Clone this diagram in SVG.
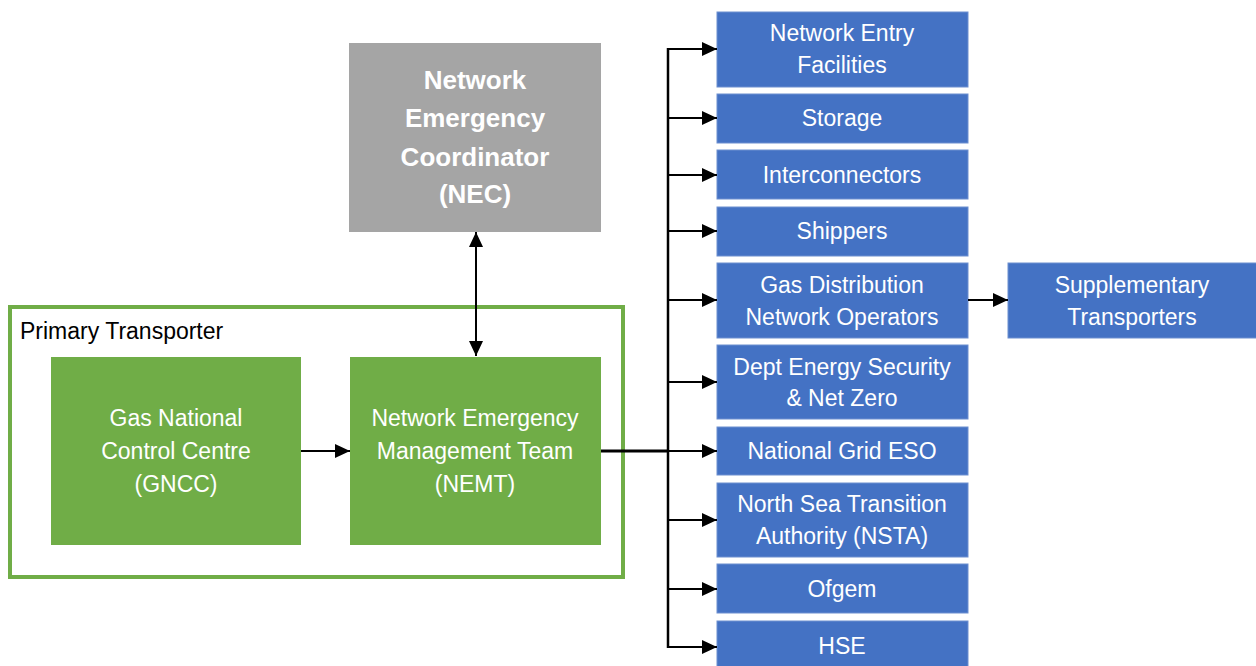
<svg xmlns="http://www.w3.org/2000/svg" width="1256" height="666" viewBox="0 0 1256 666">
<defs>
<marker id="arr" viewBox="0 0 10 10" refX="10" refY="5" markerUnits="userSpaceOnUse" markerWidth="15" markerHeight="14" preserveAspectRatio="none" orient="auto-start-reverse">
<path d="M0,0 L10,5 L0,10 z" fill="#000"/>
</marker>
<style>
.blue{fill:#4472C4;stroke:#6d8fd0;stroke-width:1}
.green{fill:#70AD47}
.grey{fill:#A5A5A5}
.wt{fill:#fff;font-family:"Liberation Sans",Arial,sans-serif;font-size:23px;text-anchor:middle}
.nec{fill:#fff;font-family:"Liberation Sans",Arial,sans-serif;font-size:26px;font-weight:bold;text-anchor:middle}
.lbl{fill:#000;font-family:"Liberation Sans",Arial,sans-serif;font-size:23px}
.c{fill:none;stroke:#000;stroke-width:2}
</style>
</defs>
<rect width="1256" height="666" fill="#fff"/>

<g id="primary-transporter">
<rect x="10" y="307" width="613" height="270" fill="none" stroke="#70AD47" stroke-width="4"/>
<text class="lbl" x="20" y="339">Primary Transporter</text>
</g>

<g id="nec">
<rect class="grey" x="349" y="43" width="252" height="189"/>
<text class="nec" x="475" y="89">Network</text>
<text class="nec" x="475" y="127">Emergency</text>
<text class="nec" x="475" y="166">Coordinator</text>
<text class="nec" x="475" y="203">(NEC)</text>
</g>

<g id="gncc">
<rect class="green" x="51" y="357" width="250" height="188"/>
<text class="wt" x="176" y="426">Gas National</text>
<text class="wt" x="176" y="459">Control Centre</text>
<text class="wt" x="176" y="492">(GNCC)</text>
</g>

<g id="nemt">
<rect class="green" x="350" y="357" width="251" height="188"/>
<text class="wt" x="475" y="426">Network Emergency</text>
<text class="wt" x="475" y="459">Management Team</text>
<text class="wt" x="475" y="492">(NEMT)</text>
</g>

<g id="network-entry">
<rect class="blue" x="717" y="12" width="251" height="75"/>
<text class="wt" x="842" y="41">Network Entry</text>
<text class="wt" x="842" y="73">Facilities</text>
</g>
<g id="storage">
<rect class="blue" x="717" y="94" width="251" height="49"/>
<text class="wt" x="842" y="126">Storage</text>
</g>
<g id="interconnectors">
<rect class="blue" x="717" y="150" width="251" height="49"/>
<text class="wt" x="842" y="183">Interconnectors</text>
</g>
<g id="shippers">
<rect class="blue" x="717" y="207" width="251" height="49"/>
<text class="wt" x="842" y="239">Shippers</text>
</g>
<g id="gdno">
<rect class="blue" x="717" y="263" width="251" height="75"/>
<text class="wt" x="842" y="293">Gas Distribution</text>
<text class="wt" x="842" y="325">Network Operators</text>
</g>
<g id="desnz">
<rect class="blue" x="717" y="345" width="251" height="74"/>
<text class="wt" x="842" y="375">Dept Energy Security</text>
<text class="wt" x="842" y="406">&amp; Net Zero</text>
</g>
<g id="ngeso">
<rect class="blue" x="717" y="427" width="251" height="48"/>
<text class="wt" x="842" y="459">National Grid ESO</text>
</g>
<g id="nsta">
<rect class="blue" x="717" y="483" width="251" height="74"/>
<text class="wt" x="842" y="512">North Sea Transition</text>
<text class="wt" x="842" y="544">Authority (NSTA)</text>
</g>
<g id="ofgem">
<rect class="blue" x="717" y="564" width="251" height="49"/>
<text class="wt" x="842" y="597">Ofgem</text>
</g>
<g id="hse">
<rect class="blue" x="717" y="621" width="251" height="50"/>
<text class="wt" x="842" y="654">HSE</text>
</g>
<g id="supplementary">
<rect class="blue" x="1008" y="263" width="250" height="75"/>
<text class="wt" x="1132" y="293">Supplementary</text>
<text class="wt" x="1132" y="325">Transporters</text>
</g>

<g id="connectors">
<line class="c" x1="476" y1="232" x2="476" y2="356" marker-start="url(#arr)" marker-end="url(#arr)"/>
<line class="c" x1="301" y1="451" x2="350" y2="451" marker-end="url(#arr)"/>
<line x1="601" y1="451" x2="669" y2="451" stroke="#000" stroke-width="3"/>
<line x1="668" y1="48" x2="668" y2="648" stroke="#000" stroke-width="2.5"/>
<line class="c" x1="667" y1="49" x2="717" y2="49" marker-end="url(#arr)"/>
<line class="c" x1="667" y1="118" x2="717" y2="118" marker-end="url(#arr)"/>
<line class="c" x1="667" y1="175" x2="717" y2="175" marker-end="url(#arr)"/>
<line class="c" x1="667" y1="231" x2="717" y2="231" marker-end="url(#arr)"/>
<line class="c" x1="667" y1="300" x2="717" y2="300" marker-end="url(#arr)"/>
<line class="c" x1="667" y1="382" x2="717" y2="382" marker-end="url(#arr)"/>
<line class="c" x1="667" y1="451" x2="717" y2="451" marker-end="url(#arr)"/>
<line class="c" x1="667" y1="520" x2="717" y2="520" marker-end="url(#arr)"/>
<line class="c" x1="667" y1="589" x2="717" y2="589" marker-end="url(#arr)"/>
<line class="c" x1="667" y1="647" x2="717" y2="647" marker-end="url(#arr)"/>
<line class="c" x1="968" y1="300" x2="1008" y2="300" marker-end="url(#arr)"/>
</g>
</svg>
